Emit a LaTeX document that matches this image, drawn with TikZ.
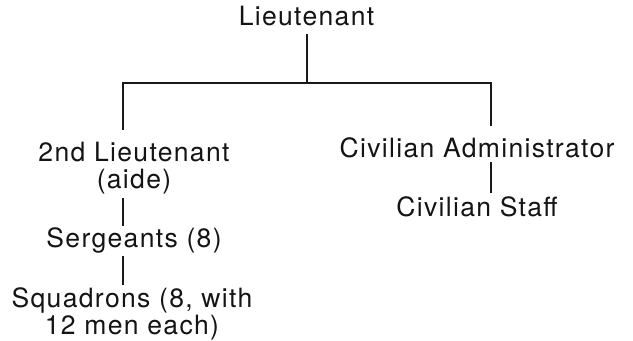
\documentclass[tikz,border=0pt]{standalone}
\usepackage{fontspec}
\setmainfont{TeX Gyre Heros}[LetterSpace=5]
\begin{document}
\begin{tikzpicture}[x=0.75pt,y=-0.75pt,
  lbl/.style={inner sep=0pt, outer sep=0pt, align=center, text=black!92,
    font=\fontsize{19.9pt}{20.25pt}\selectfont},
  conn/.style={draw=black!90, line width=1.4pt}]
\useasboundingbox[fill=white] (0,0) rectangle (633,341);
% nodes
\node[lbl, anchor=base] (lt) at (306.5,26) {Lieutenant};
\node[lbl, anchor=north] (sl) at (134,142.5) {2nd Lieutenant\\(aide)};
\node[lbl, anchor=base] (sg) at (134,248) {Sergeants (8)};
\node[lbl, anchor=north] (sq) at (132,287.5) {Squadrons (8, with\\12 men each)};
\node[lbl, anchor=base] (ca) at (477,158) {Civilian Administrator};
\node[lbl, anchor=base] (cs) at (477,217) {Civilian Staff};
% junctions
\coordinate (jm) at (307,83);
\coordinate (jl) at (123,83);
\coordinate (jr) at (491,83);
% connectors
\draw[conn, shorten <=6pt] (lt.south -| jm) -- (jm);
\draw[conn, shorten <=9.5pt, shorten >=9pt] (sl.north -| jl) -- (jl) -- (jr) -- (ca.north -| jr);
\draw[conn, shorten <=3pt, shorten >=2pt] (sl.south -| jl) -- (sg.north -| jl);
\draw[conn, shorten <=1.5pt, shorten >=2pt] (sg.south -| jl) -- (sq.north -| jl);
\draw[conn, shorten <=3pt, shorten >=3pt] (ca.south -| jr) -- (cs.north -| jr);
\end{tikzpicture}
\end{document}
